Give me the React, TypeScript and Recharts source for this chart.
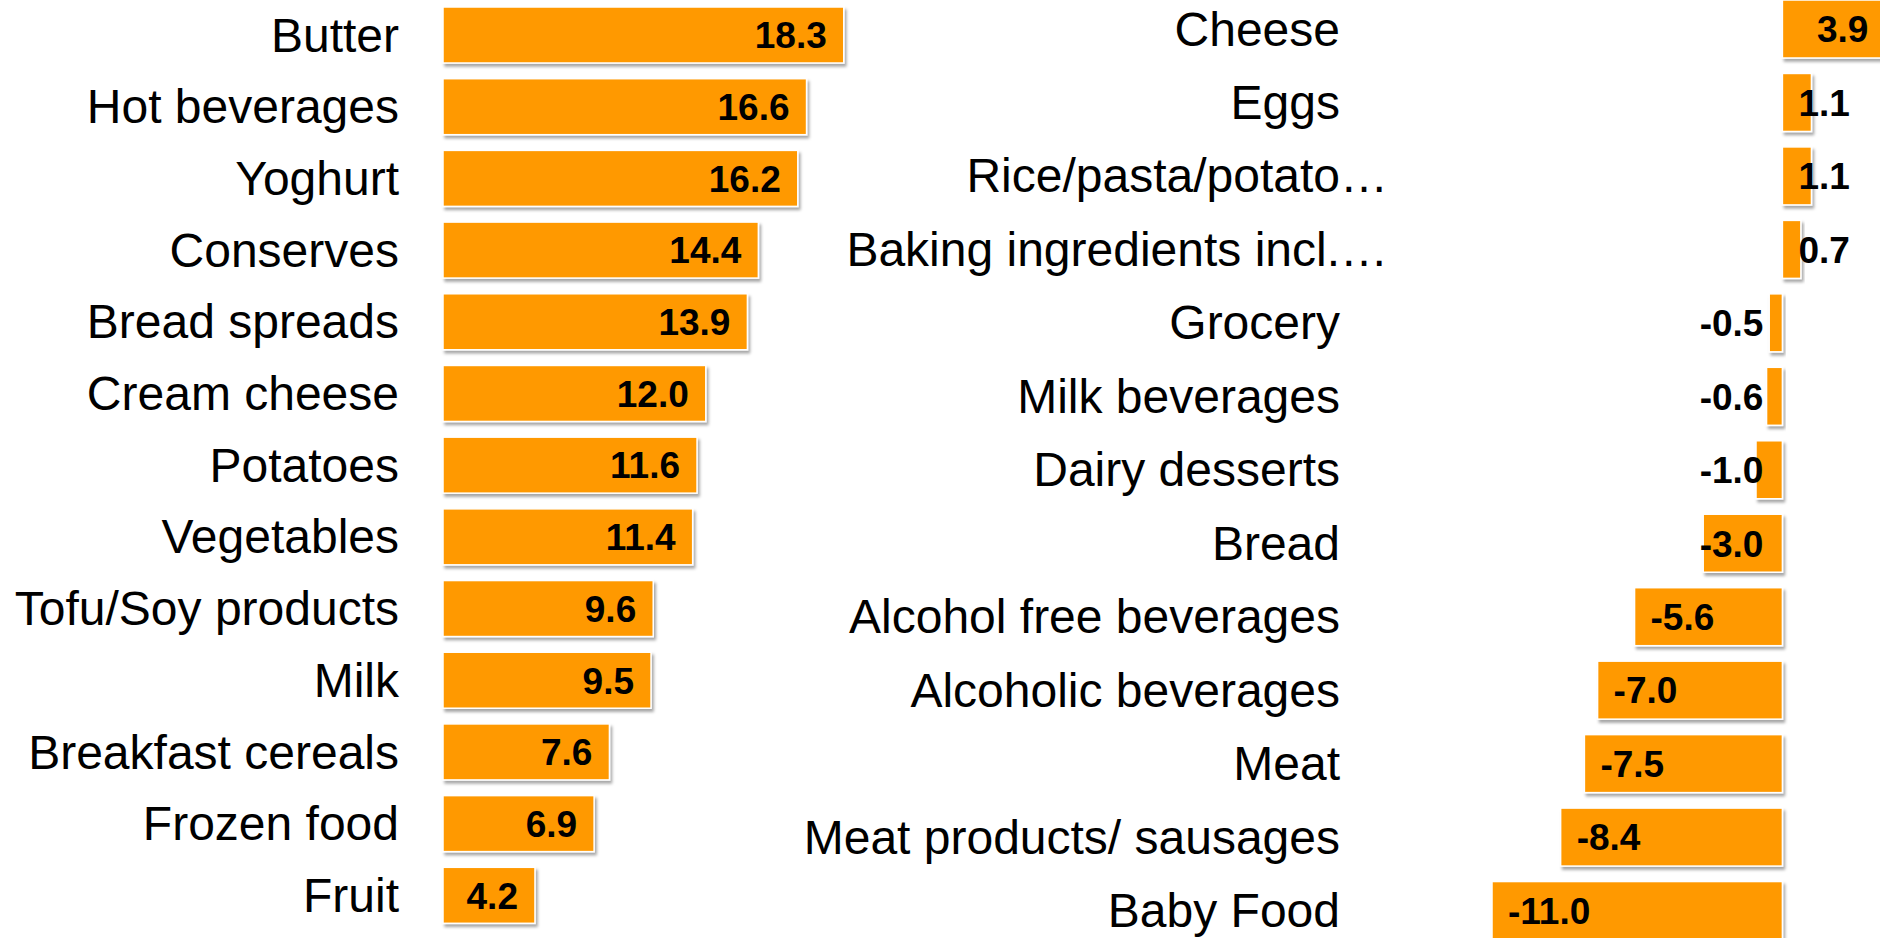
import React from "react";
import { BarChart, Bar, XAxis, YAxis, LabelList } from "recharts";

const leftCategories = [
  "Butter",
  "Hot beverages",
  "Yoghurt",
  "Conserves",
  "Bread spreads",
  "Cream cheese",
  "Potatoes",
  "Vegetables",
  "Tofu/Soy products",
  "Milk",
  "Breakfast cereals",
  "Frozen food",
  "Fruit",
];
const leftValues = [18.3, 16.6, 16.2, 14.4, 13.9, 12.0, 11.6, 11.4, 9.6, 9.5, 7.6, 6.9, 4.2];

const rightCategories = [
  "Cheese",
  "Eggs",
  "Rice/pasta/potato…",
  "Baking ingredients incl.…",
  "Grocery",
  "Milk beverages",
  "Dairy desserts",
  "Bread",
  "Alcohol free beverages",
  "Alcoholic beverages",
  "Meat",
  "Meat products/ sausages",
  "Baby Food",
];
const rightValues = [3.9, 1.1, 1.1, 0.7, -0.5, -0.6, -1.0, -3.0, -5.6, -7.0, -7.5, -8.4, -11.0];

const leftData = leftCategories.map((name, i) => ({ name, value: leftValues[i] }));
const rightData = rightCategories.map((name, i) => ({ name, value: rightValues[i] }));

const FONT = '"Liberation Sans", Arial, Helvetica, sans-serif';
const ORANGE = "#FF9900";
const CAT_SIZE = 48;
const VAL_SIZE = 37;

const charW: Record<string, number> = { "-": 0.333, ".": 0.278 };
const estWidth = (s: string) =>
  s.split("").reduce((a, c) => a + (charW[c] ?? 0.556), 0) * VAL_SIZE;

const CategoryTick = (props: any) => {
  const { x, y, payload } = props;
  const label = String(payload.value);
  const hasEllipsis = label.endsWith("…");
  const base = hasEllipsis ? label.slice(0, -1) : label;
  return (
    <g>
      <text x={x} y={y} dy="0.35em" textAnchor="end" fontFamily={FONT} fontSize={CAT_SIZE} fill="#000">
        {base}
      </text>
      {hasEllipsis && (
        <text x={x} y={y} dy="0.35em" textAnchor="start" fontFamily={FONT} fontSize={CAT_SIZE} fill="#000">
          …
        </text>
      )}
    </g>
  );
};

const ValueLabel = (props: any) => {
  const { x, y, width, height, value } = props;
  const v = Number(value);
  const text = v.toFixed(1);
  const left = Math.min(x, x + width);
  const right = Math.max(x, x + width);
  const cy = y + height / 2;
  const w = estWidth(text);
  if (v >= 0) {
    const tx = Math.max(right - 17, left + 16 + w);
    return (
      <text x={tx} y={cy} dy="0.36em" textAnchor="end" fontFamily={FONT} fontSize={VAL_SIZE} fontWeight="bold" fill="#000">
        {text}
      </text>
    );
  }
  const tx = Math.min(left + 16, right - 19 - w);
  return (
    <text x={tx} y={cy} dy="0.36em" textAnchor="start" fontFamily={FONT} fontSize={VAL_SIZE} fontWeight="bold" fill="#000">
      {text}
    </text>
  );
};

const BarShape = (props: any) => {
  const { x, y, width, height } = props;
  const rx = Math.min(x, x + width);
  const w = Math.abs(width);
  return (
    <rect
      x={rx}
      y={y}
      width={w}
      height={height}
      fill={ORANGE}
      stroke="#ffffff"
      strokeWidth={1.5}
      filter="url(#barShadow)"
    />
  );
};

const Defs = () => (
  <defs>
    <filter id="barShadow" x="-10%" y="-20%" width="130%" height="160%">
      <feDropShadow dx="2" dy="3" stdDeviation="1.6" floodColor="#000" floodOpacity="0.35" />
    </filter>
  </defs>
);

export default function App() {
  return (
    <div
      style={{
        position: "absolute",
        left: 0,
        top: 0,
        width: 1880,
        height: 938,
        overflow: "hidden",
        background: "#fff",
      }}
    >
      <div style={{ position: "absolute", left: 0, top: -1 }}>
        <BarChart
          width={881}
          height={932}
          data={leftData}
          layout="vertical"
          margin={{ top: 0, right: 0, bottom: 0, left: 0 }}
        >
          <Defs />
          <XAxis type="number" domain={[0, 20]} hide />
          <YAxis
            type="category"
            dataKey="name"
            width={443}
            axisLine={false}
            tickLine={false}
            tickSize={0}
            tickMargin={44}
            interval={0}
            tick={<CategoryTick />}
          />
          <Bar dataKey="value" barSize={56} isAnimationActive={false} shape={<BarShape />}>
            <LabelList dataKey="value" content={<ValueLabel />} />
          </Bar>
        </BarChart>
      </div>
      <div style={{ position: "absolute", left: 600, top: -8 }}>
        <BarChart
          width={1288}
          height={955}
          data={rightData}
          layout="vertical"
          margin={{ top: 0, right: 0, bottom: 0, left: 0 }}
        >
          <Defs />
          <XAxis type="number" domain={[-16, 4]} hide />
          <YAxis
            type="category"
            dataKey="name"
            width={760}
            axisLine={false}
            tickLine={false}
            tickSize={0}
            tickMargin={20}
            interval={0}
            tick={<CategoryTick />}
          />
          <Bar dataKey="value" barSize={58} isAnimationActive={false} shape={<BarShape />}>
            <LabelList dataKey="value" content={<ValueLabel />} />
          </Bar>
        </BarChart>
      </div>
    </div>
  );
}
